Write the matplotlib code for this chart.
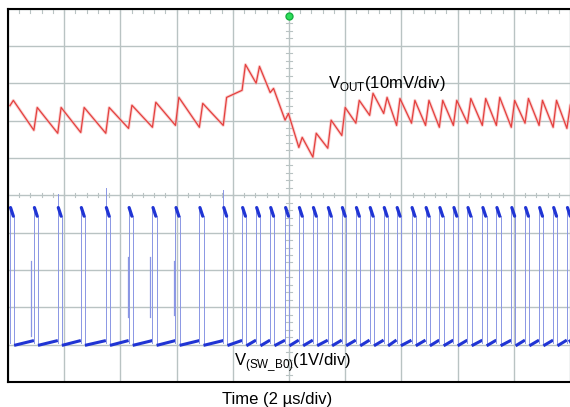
import matplotlib.pyplot as plt
import numpy as np

plt.rcParams['font.family'] = ['Liberation Sans', 'DejaVu Sans']
plt.rcParams['mathtext.fontset'] = 'custom'
plt.rcParams['mathtext.rm'] = 'Liberation Sans'

# switch-node rising edges (us)
edges = [-9.93, -9.08, -8.23, -7.41, -6.52, -5.71, -4.86, -4.04, -3.19, -2.34,
         -1.67, -1.17, -0.67, -0.14, 0.35, 0.85, 1.38, 1.88, 2.38, 2.87,
         3.37, 3.83, 4.36, 4.86, 5.35, 5.85, 6.35, 6.88, 7.38, 7.91,
         8.40, 8.90, 9.40, 9.89]

# Vout ripple (mV, AC) just before and just after each edge
vout_trough = [2.0, -4.6, -5.4, -5.2, -5.4, -4.1, -3.8, -3.3, -3.8, -3.3,
               6.1, 8.0, 5.5, -1.9, -9.2, -11.8, -9.4, -6.0, -2.7, -0.6,
               -0.1, -3.3, -2.7, -3.3, -3.8, -3.3, -2.7, -3.3, -3.3, -3.8,
               -2.7, -3.3, -3.8, -4.1]
vout_peak = [3.4, 1.5, 1.5, 1.5, 1.5, 2.1, 2.9, 4.2, 2.6, 4.2,
             13.0, 12.5, 6.6, -0.1, -6.5, -5.4, -1.9, 1.5, 3.4, 5.3,
             4.2, 3.9, 3.4, 3.4, 3.4, 3.4, 3.9, 3.9, 4.2, 3.4,
             3.9, 3.4, 3.4, 2.1]

# switch node levels (V)
v_high = 3.55
t_on = 0.15
overshoot_t = [-8.23, -6.52, -2.34]
overshoot_v = [4.0, 4.15, 4.1]
# partial ringing pulses (time, top V, bottom V)
ring_t = [-9.18, -5.74, -4.93, -4.11]
ring_top = [2.2, 2.3, 2.3, 2.2]
ring_bot = [0.2, 0.7, 0.7, 0.75]

vout_pos = 2.2    # screen divisions
sw_pos = -3.96

fig = plt.figure(figsize=(5.70, 4.07), dpi=100)
ax = fig.add_axes([8 / 570, 25 / 407, 562 / 570, 373.5 / 407])
ax.set_xlim(-10, 10)
ax.set_ylim(-5, 5)

grid_c = '#b9c3c3'
ax.set_xticks(np.arange(-10, 11, 2))
ax.set_yticks(np.arange(-5, 6, 1))
ax.grid(True, color=grid_c, lw=1.0)
ax.tick_params(length=0, labelbottom=False, labelleft=False)
for s in ['top', 'bottom', 'left']:
    ax.spines[s].set_linewidth(1.5)
ax.spines['right'].set_visible(False)

# minor ticks on the centre lines and top border
for x in np.arange(-10, 10.01, 0.4):
    ax.plot([x, x], [-0.06, 0.06], color=grid_c, lw=0.8)
    ax.plot([x, x], [4.88, 5], color=grid_c, lw=0.8)
for y in np.arange(-5, 5.01, 0.2):
    ax.plot([-0.1, 0.1], [y, y], color=grid_c, lw=0.8)

# Vout trace
rt, rv = [], []
for t, lo, hi in zip(edges, vout_trough, vout_peak):
    rt += [t, t + 0.12]
    rv += [vout_pos + lo / 10, vout_pos + hi / 10]
ax.plot(rt, rv, color='#f7b0b0', lw=2.2, alpha=0.6, solid_joinstyle='round')
ax.plot(rt, rv, color='#e4403e', lw=0.9)

# switch node trace
thin = '#8a96e4'
thick = '#2034d4'
for i, t in enumerate(edges):
    top = v_high + 0.1
    if t in overshoot_t:
        top = overshoot_v[overshoot_t.index(t)]
    ax.plot([t, t], [sw_pos, sw_pos + top], color=thin, lw=0.7)
    ax.plot([t + t_on, t + t_on], [sw_pos + v_high - 0.15, sw_pos], color=thin, lw=0.7)
    ax.plot([t + 0.02, t + 0.12], [sw_pos + v_high + 0.08, sw_pos + v_high - 0.15],
            color=thick, lw=2.3, solid_capstyle='round')
    t_end = edges[i + 1] - 0.05 if i + 1 < len(edges) else 10
    ax.plot([t + t_on + 0.05, t_end], [sw_pos - 0.05, sw_pos + 0.06],
            color=thick, lw=2.2)
for t, a, b in zip(ring_t, ring_top, ring_bot):
    ax.plot([t, t], [sw_pos + b, sw_pos + a], color=thin, lw=0.9)

# trigger marker
ax.plot([0], [4.8], 'o', ms=5, color='#2ede5a', mec='#18b040', clip_on=False)

ax.text(1.4, 2.88, r'V$_{\mathrm{OUT}}$(10mV/div)', fontsize=12, va='baseline')
ax.text(-1.95, -4.58, r'V$_{\mathrm{(SW\_B0)}}$(1V/div)', fontsize=12, va='baseline')
fig.text(222 / 570, 1 - 404 / 407, 'Time (2 µs/div)', fontsize=12, va='baseline')

fig.savefig('out.png', dpi=100, facecolor='white')
